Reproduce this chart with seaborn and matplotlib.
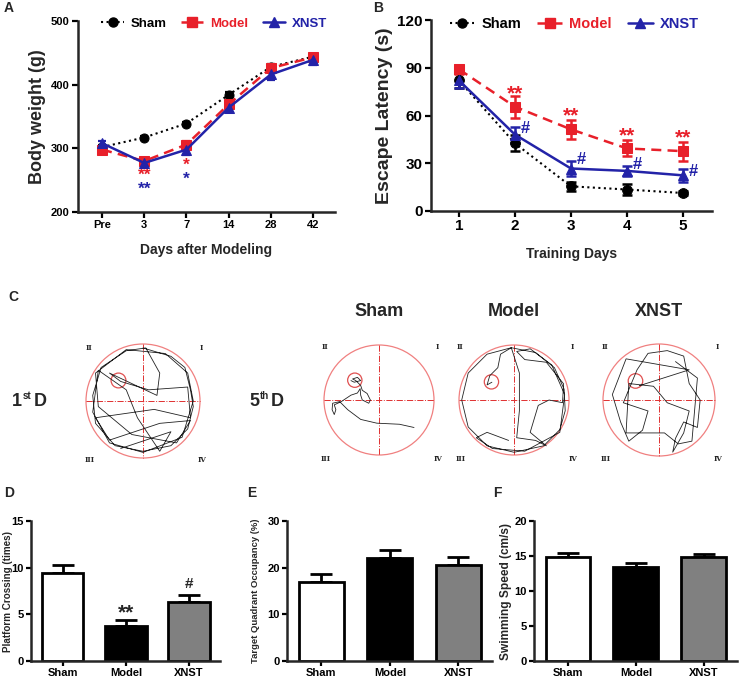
import numpy as np
import pandas as pd
import matplotlib
matplotlib.use("Agg")
import matplotlib.pyplot as plt
from matplotlib import font_manager
from matplotlib.lines import Line2D
from matplotlib.patches import Circle
import seaborn as sns

# ---------------- data ----------------
groups = ["Sham", "Model", "XNST"]

# Panel A: body weight
a_days = ["Pre", "3", "7", "14", "28", "42"]
a_sham = [302, 317, 339, 384, 428, 444]
a_sham_err = [3, 3, 3, 4, 4, 4]
a_model = [298, 280, 306, 369, 426, 443]
a_model_err = [4, 5, 5, 6, 5, 5]
a_xnst = [308, 277, 298, 364, 416, 439]
a_xnst_err = [4, 5, 8, 6, 8, 8]

# Panel B: escape latency
b_days = [1, 2, 3, 4, 5]
b_sham = [82, 42.5, 15.5, 13.5, 11.3]
b_sham_err = [5, 5, 3, 3.5, 1]
b_model = [89, 65.5, 51.3, 39.3, 37.6]
b_model_err = [3, 7, 6, 5, 6]
b_xnst = [82, 48, 26.7, 25.2, 22.4]
b_xnst_err = [5, 5, 5, 3, 4]

# Panels D, E, F
d_vals = [9.4, 3.8, 6.3]
d_err = [0.85, 0.6, 0.8]
e_vals = [16.9, 22.0, 20.6]
e_err = [1.8, 1.8, 1.7]
f_vals = [14.85, 13.4, 14.9]
f_err = [0.55, 0.55, 0.4]

# Panel C: swim paths (normalised pool coordinates, radius = 1)
pool_labels = ["1st", "Sham", "Model", "XNST"]
platform_xy = [(-0.43, 0.36), (-0.44, 0.36), (-0.41, 0.33), (-0.42, 0.34)]
path_1st = [(0.0, 0.95), (0.5, 0.8), (0.75, 0.6), (0.85, 0.2), (0.9, -0.1), (0.8, -0.5), (0.5, -0.8),
            (0.0, -0.9), (-0.5, -0.8), (-0.85, -0.4), (-0.9, 0.1), (-0.75, 0.6), (-0.3, 0.9), (0.05, 0.95),
            (0.3, 0.5), (0.25, 0.1), (-0.6, 0.5), (-0.4, 0.35), (0.1, 0.2), (0.8, 0.25), (0.85, -0.3),
            (0.2, -0.15), (-0.85, -0.3), (-0.6, -0.7), (0.3, -0.4), (0.85, -0.35), (0.6, -0.75),
            (-0.2, -0.6), (-0.8, -0.1), (-0.85, 0.5), (-0.3, 0.92), (0.4, 0.85), (0.8, 0.5), (0.9, 0.0),
            (0.7, -0.65), (0.0, -0.92), (-0.6, -0.75), (-0.9, -0.2), (-0.8, 0.55), (-0.3, 0.2),
            (-0.1, -0.3), (0.3, -0.9), (0.5, -0.55), (-0.4, -0.85)]
path_sham = [(0.65, -0.51), (0.38, -0.45), (-0.04, -0.43), (-0.34, -0.36), (-0.58, -0.18), (-0.73, -0.03),
             (-0.86, -0.06), (-0.87, -0.18), (-0.83, -0.27), (-0.8, -0.18), (-0.83, -0.09), (-0.7, -0.03),
             (-0.52, 0.09), (-0.4, 0.13), (-0.35, 0.21), (-0.34, 0.09), (-0.31, 0.0), (-0.19, -0.06),
             (-0.16, 0.0), (-0.22, 0.12), (-0.31, 0.18), (-0.34, 0.27), (-0.43, 0.36), (-0.49, 0.39),
             (-0.4, 0.42), (-0.34, 0.36), (-0.46, 0.33), (-0.52, 0.36)]
path_model = [(-0.41, 0.33), (-0.5, 0.28), (-0.45, 0.45), (-0.3, 0.6), (-0.25, 0.85), (-0.05, 0.97),
              (0.4, 0.88), (0.75, 0.6), (0.93, 0.2), (0.95, -0.2), (0.85, -0.55), (0.55, -0.85),
              (0.0, -0.97), (-0.5, -0.85), (-0.85, -0.5), (-0.97, 0.0), (-0.85, 0.5), (-0.5, 0.85),
              (-0.05, 0.97), (0.1, 0.5), (0.1, -0.2), (0.05, -0.7), (0.4, -0.75), (0.6, -0.85),
              (0.3, -0.6), (0.45, -0.1), (0.65, 0.0), (0.9, -0.05), (0.92, 0.3), (0.6, 0.7), (0.2, 0.75),
              (0.05, 0.9), (0.3, 0.95), (0.7, 0.65), (0.94, 0.1), (0.85, -0.6), (0.2, -0.95),
              (-0.4, -0.9), (-0.7, -0.7), (-0.5, -0.6), (-0.1, -0.75)]
path_xnst = [(-0.36, 0.26), (0.55, 0.55), (-0.6, 0.75), (-0.85, 0.1), (-0.7, -0.4), (-0.55, -0.75),
             (-0.3, -0.55), (-0.2, -0.2), (-0.65, -0.05), (-0.4, 0.55), (-0.2, 0.85), (0.15, 0.9),
             (0.45, 0.8), (0.55, 0.3), (0.75, 0.0), (0.7, -0.5), (0.45, -0.4), (0.3, -0.7), (0.25, -0.95),
             (0.45, -0.6), (0.55, -0.2), (0.15, -0.05), (-0.1, 0.25), (-0.55, 0.3), (-0.6, -0.6),
             (0.1, -0.6), (0.35, -0.8), (0.6, -0.75), (0.7, 0.4), (0.3, 0.7)]
paths = [path_1st, path_sham, path_model, path_xnst]

# ---------------- style ----------------
sns.set_theme(style="ticks")
avail = {f.name for f in font_manager.fontManager.ttflist}
base = ["Liberation Sans", "Arial", "DejaVu Sans"]
narrow = (["Liberation Sans Narrow"] if "Liberation Sans Narrow" in avail else []) + base
plt.rcParams["font.family"] = base
plt.rcParams["font.weight"] = "bold"
plt.rcParams["axes.labelweight"] = "bold"
plt.rcParams["axes.linewidth"] = 1.8
plt.rcParams["xtick.major.width"] = 1.6
plt.rcParams["ytick.major.width"] = 1.6
plt.rcParams["xtick.major.size"] = 4
plt.rcParams["ytick.major.size"] = 4

RED = "#e8202a"
BLUE = "#2323a8"
W, H = 740, 679
fig = plt.figure(figsize=(W / 100, H / 100), dpi=100)


def add_ax(left, top, right, bottom):
    return fig.add_axes([left / W, 1 - bottom / H, (right - left) / W, (bottom - top) / H])


def style_ax(ax, fs, fam, pad=2):
    sns.despine(ax=ax)
    for lab in ax.get_xticklabels() + ax.get_yticklabels():
        lab.set_fontsize(fs)
        lab.set_fontweight("bold")
        lab.set_family(fam)
    ax.tick_params(axis="both", pad=pad, colors="black")


specs = {"Sham": ("black", ":", "o", 1.5), "Model": (RED, (0, (4, 2.5)), "s", 1.8), "XNST": (BLUE, "-", "^", 1.8)}


def make_legend(ax, fs, xc):
    hs = []
    for g in groups:
        c, ls, m, lw = specs[g]
        hs.append(Line2D([0], [0], color=c, linestyle=ls, marker=m, markersize=6.5, linewidth=lw))
    leg = ax.legend(hs, groups, ncol=3, loc="upper center", bbox_to_anchor=(xc, 1.06), frameon=False,
                    handlelength=1.7, columnspacing=1.1, handletextpad=0.5, borderaxespad=0.2,
                    prop={"size": fs, "weight": "bold"})
    for t, g in zip(leg.get_texts(), groups):
        t.set_color(specs[g][0])


# ---------------- Panel A ----------------
axA = add_ax(78, 21, 335, 212)
xa = np.arange(len(a_days))
dfA = pd.DataFrame({"x": np.tile(xa, 3), "y": a_sham + a_model + a_xnst,
                    "g": np.repeat(groups, len(xa))})
errsA = {"Sham": a_sham_err, "Model": a_model_err, "XNST": a_xnst_err}
for g in groups:
    c, ls, m, lw = specs[g]
    sub = dfA[dfA.g == g]
    axA.errorbar(sub.x, sub.y, yerr=errsA[g], fmt="none", ecolor=c, elinewidth=1.6, capsize=3, capthick=1.6, zorder=3)
    sns.lineplot(data=sub, x="x", y="y", ax=axA, color=c, linestyle=ls, marker=m, markersize=6.5,
                 markeredgecolor=c, linewidth=lw, zorder=4)
axA.set_xlim(-0.57, 5.52)
axA.set_ylim(200, 500)
axA.set_yticks([200, 300, 400, 500])
axA.set_xticks(xa)
axA.set_xticklabels(a_days)
axA.set_xlabel("Days after Modeling", fontsize=10, fontweight="bold")
axA.set_ylabel("Body weight (g)", fontsize=13, fontweight="bold")
axA.yaxis.set_label_coords(-0.125, 0.5)
axA.xaxis.set_label_coords(0.5, -0.16)
style_ax(axA, 8, narrow)
axA.text(1, 258, "**", color=RED, ha="center", va="center", fontsize=12.5, fontweight="bold")
axA.text(1, 235, "**", color=BLUE, ha="center", va="center", fontsize=12.5, fontweight="bold")
axA.text(2, 273, "*", color=RED, ha="center", va="center", fontsize=12.5, fontweight="bold")
axA.text(2, 251, "*", color=BLUE, ha="center", va="center", fontsize=12.5, fontweight="bold")
make_legend(axA, 9.5, 0.53)

# ---------------- Panel B ----------------
axB = add_ax(431, 20, 712, 211)
dfB = pd.DataFrame({"x": b_days * 3, "y": b_sham + b_model + b_xnst,
                    "g": np.repeat(groups, len(b_days))})
errsB = {"Sham": b_sham_err, "Model": b_model_err, "XNST": b_xnst_err}
for g in groups:
    c, ls, m, lw = specs[g]
    sub = dfB[dfB.g == g]
    axB.errorbar(sub.x, sub.y, yerr=errsB[g], fmt="none", ecolor=c, elinewidth=1.8, capsize=3.5, capthick=1.8, zorder=3)
    sns.lineplot(data=sub, x="x", y="y", ax=axB, color=c, linestyle=ls, marker=m, markersize=7,
                 markeredgecolor=c, linewidth=lw, zorder=4)
axB.set_xlim(0.5, 5.52)
axB.set_ylim(0, 120)
axB.set_yticks([0, 30, 60, 90, 120])
axB.set_xticks(b_days)
axB.set_xlabel("Training Days", fontsize=10, fontweight="bold")
axB.set_ylabel("Escape Latency (s)", fontsize=14, fontweight="bold")
axB.yaxis.set_label_coords(-0.135, 0.5)
axB.xaxis.set_label_coords(0.5, -0.19)
style_ax(axB, 11, base)
for d, y in zip([2, 3, 4, 5], [73.5, 59.5, 47, 46]):
    axB.text(d, y, "**", color=RED, ha="center", va="center", fontsize=15, fontweight="bold")
for d, y in zip([2, 3, 4, 5], [52, 32.5, 29, 25]):
    axB.text(d + 0.18, y, "#", color=BLUE, ha="center", va="center", fontsize=12, fontweight="bold")
make_legend(axB, 10.5, 0.51)

# ---------------- Panel C ----------------
axC = add_ax(0, 270, 740, 475)
axC.set_xlim(0, W)
axC.set_ylim(475, 270)
axC.axis("off")
centers = [(143, 401, 57), (379, 400, 55), (514, 400, 55), (659, 400, 56)]
for (cx, cy, r), path, (px, py) in zip(centers, paths, platform_xy):
    axC.add_patch(Circle((cx, cy), r, fill=False, edgecolor="#f08080", linewidth=0.9))
    axC.plot([cx - r, cx + r], [cy, cy], color="#e03030", linestyle="-.", linewidth=0.7)
    axC.plot([cx, cx], [cy - r, cy + r], color="#e03030", linestyle="-.", linewidth=0.7)
    axC.add_patch(Circle((cx + px * r, cy - py * r), 0.13 * r, fill=False, edgecolor="#e05050", linewidth=0.9))
    pts = np.array(path)
    axC.plot(cx + pts[:, 0] * r * 0.98, cy - pts[:, 1] * r * 0.98, color="#222222", linewidth=0.6)
    for lab, dx, dy in [("II", -54, -53), ("I", 58, -53), ("III", -53, 59), ("IV", 59, 59)]:
        axC.text(cx + dx, cy + dy, lab, fontsize=5, ha="center", va="center", family="DejaVu Serif",
                 fontweight="bold")
for name, (cx, cy, r) in zip(groups, centers[1:]):
    axC.text(cx, 312, name, fontsize=13, ha="center", va="center", fontweight="bold", family=narrow)
for x0, num, sup in [(12, "1", "st"), (249, "5", "th")]:
    axC.text(x0, 401, num, fontsize=13, ha="left", va="center", fontweight="bold", family=narrow)
    axC.text(x0 + 10.5, 396, sup, fontsize=7, ha="left", va="center", fontweight="bold", family=narrow)
    axC.text(x0 + 22, 401, "D", fontsize=13, ha="left", va="center", fontweight="bold", family=narrow)

# ---------------- Panels D, E, F ----------------
bar_colors = ["white", "black", "#808080"]


def bar_panel(left, right, vals, errs, ymax, step, ylabel, ylab_x, lab_fs):
    ax = add_ax(left, 521, right, 661)
    df = pd.DataFrame({"g": groups, "v": vals})
    sns.barplot(data=df, x="g", y="v", hue="g", palette=bar_colors, legend=False, ax=ax,
                edgecolor="black", linewidth=2, width=0.66, saturation=1)
    ax.errorbar(np.arange(3), vals, yerr=[np.zeros(3), errs], fmt="none", ecolor="black",
                elinewidth=2, capsize=8, capthick=2, zorder=1)
    for p in ax.patches:
        p.set_zorder(2)
    ax.set_xlim(-0.5, 2.49)
    ax.set_ylim(0, ymax)
    ax.set_yticks(np.arange(0, ymax + 0.1, step))
    ax.set_xlabel("")
    ax.set_ylabel(ylabel, fontsize=lab_fs, fontweight="bold")
    ax.yaxis.set_label_coords(ylab_x, 0.5)
    ax.tick_params(axis="both", length=3.5)
    style_ax(ax, 8, narrow, pad=1.5)
    return ax


axD = bar_panel(31, 220, d_vals, d_err, 15, 5, "Platform Crossing (times)", -0.095, 7.1)
axD.text(1, 5.2, "**", ha="center", va="center", fontsize=15, fontweight="bold")
axD.text(2, 8.2, "#", ha="center", va="center", fontsize=11, fontweight="bold")
axE = bar_panel(287, 492, e_vals, e_err, 30, 10, "Target Quadrant Occupancy (%)", -0.13, 6.8)
axF = bar_panel(534, 737, f_vals, f_err, 20, 5, "Swimming Speed (cm/s)", -0.11, 8.6)

# panel letters
for lab, x, y in [("A", 4, 8), ("B", 373, 8), ("C", 8, 297), ("D", 4, 493), ("E", 247, 493), ("F", 493, 493)]:
    fig.text(x / W, 1 - y / H, lab, fontsize=10, fontweight="bold", va="center", ha="left", family=narrow)

fig.savefig("out.png", dpi=100)
